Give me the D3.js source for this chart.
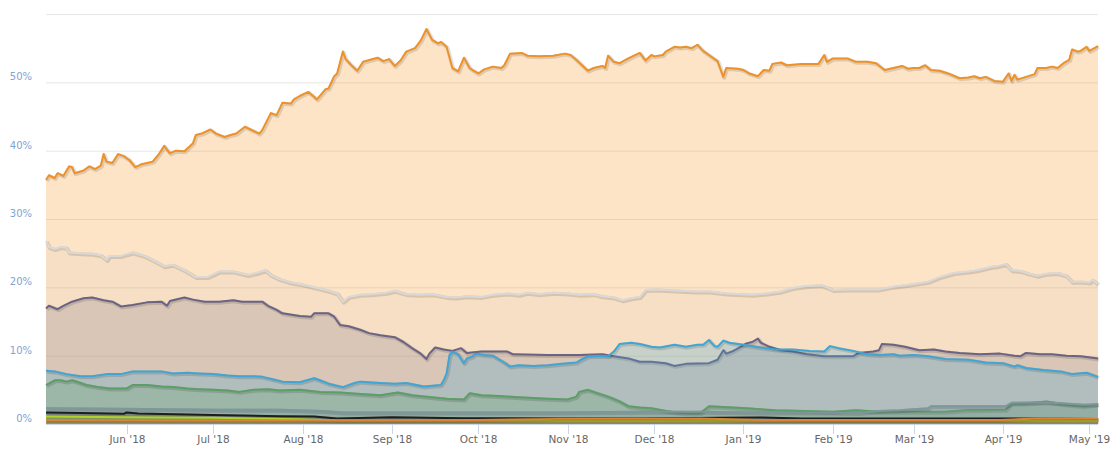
<!DOCTYPE html>
<html><head><meta charset="utf-8">
<script src="https://cdn.jsdelivr.net/npm/d3@7"></script>
<style>body{margin:0;background:#fff}svg{display:block}</style>
</head><body>
<svg id="chart" width="1118" height="459"></svg>
<script>
// ---- data (percent of total market cap) ----
const btc = [["2018-05-04",35.7],["2018-05-05",36.4],["2018-05-07",36.0],["2018-05-08",36.7],["2018-05-10",36.3],["2018-05-12",37.7],["2018-05-13",37.6],["2018-05-14",36.7],["2018-05-17",37.1],["2018-05-19",37.7],["2018-05-21",37.3],["2018-05-23",37.8],["2018-05-24",39.5],["2018-05-25",38.4],["2018-05-27",38.2],["2018-05-29",39.5],["2018-05-31",39.2],["2018-06-02",38.6],["2018-06-04",37.6],["2018-06-06",38.0],["2018-06-08",38.2],["2018-06-10",38.4],["2018-06-12",39.4],["2018-06-14",40.7],["2018-06-16",39.6],["2018-06-18",40.0],["2018-06-21",39.9],["2018-06-24",41.1],["2018-06-25",42.3],["2018-06-27",42.5],["2018-06-30",43.1],["2018-07-02",42.5],["2018-07-05",42.0],["2018-07-07",42.3],["2018-07-09",42.5],["2018-07-12",43.5],["2018-07-14",43.1],["2018-07-17",42.5],["2018-07-18",43.0],["2018-07-21",45.5],["2018-07-23",45.2],["2018-07-25",47.0],["2018-07-28",46.9],["2018-07-29",47.5],["2018-07-31",48.0],["2018-08-03",48.6],["2018-08-05",47.9],["2018-08-06",47.5],["2018-08-09",49.0],["2018-08-10",49.1],["2018-08-12",50.9],["2018-08-13",51.3],["2018-08-15",54.5],["2018-08-16",53.4],["2018-08-18",52.5],["2018-08-20",51.7],["2018-08-22",53.0],["2018-08-27",53.6],["2018-08-29",53.1],["2018-08-31",53.4],["2018-09-02",52.4],["2018-09-04",53.2],["2018-09-06",54.5],["2018-09-09",55.0],["2018-09-11",56.1],["2018-09-13",57.8],["2018-09-15",56.2],["2018-09-17",55.7],["2018-09-18",55.9],["2018-09-20",55.2],["2018-09-22",52.1],["2018-09-24",51.6],["2018-09-26",53.6],["2018-09-28",52.1],["2018-09-29",51.8],["2018-10-01",51.3],["2018-10-03",51.9],["2018-10-06",52.3],["2018-10-09",52.1],["2018-10-10",52.5],["2018-10-12",54.2],["2018-10-16",54.3],["2018-10-18",53.9],["2018-10-22",53.8],["2018-10-27",53.9],["2018-10-31",54.2],["2018-11-02",54.0],["2018-11-04",53.3],["2018-11-08",51.7],["2018-11-10",52.1],["2018-11-13",52.4],["2018-11-14",52.1],["2018-11-15",53.9],["2018-11-17",53.0],["2018-11-19",52.8],["2018-11-22",53.5],["2018-11-24",53.9],["2018-11-26",54.3],["2018-11-28",53.2],["2018-11-30",54.0],["2018-12-01",53.8],["2018-12-04",54.0],["2018-12-05",54.5],["2018-12-08",55.2],["2018-12-10",55.1],["2018-12-12",55.2],["2018-12-14",55.0],["2018-12-16",55.5],["2018-12-18",54.6],["2018-12-20",54.0],["2018-12-23",53.1],["2018-12-25",50.8],["2018-12-26",52.1],["2018-12-30",52.0],["2019-01-01",51.8],["2019-01-03",51.3],["2019-01-06",50.9],["2019-01-08",51.8],["2019-01-10",51.7],["2019-01-11",52.7],["2019-01-14",52.9],["2019-01-16",52.5],["2019-01-21",52.7],["2019-01-27",52.7],["2019-01-29",54.0],["2019-01-30",53.0],["2019-02-01",53.5],["2019-02-06",53.5],["2019-02-09",53.0],["2019-02-13",53.0],["2019-02-16",52.8],["2019-02-19",51.8],["2019-02-22",52.1],["2019-02-25",52.4],["2019-02-27",52.0],["2019-03-01",52.1],["2019-03-03",52.1],["2019-03-05",52.5],["2019-03-07",51.8],["2019-03-10",51.7],["2019-03-13",51.3],["2019-03-17",50.6],["2019-03-20",50.7],["2019-03-22",50.9],["2019-03-24",50.6],["2019-03-26",50.8],["2019-03-29",50.2],["2019-04-01",50.1],["2019-04-03",51.3],["2019-04-04",50.2],["2019-04-05",51.1],["2019-04-06",50.4],["2019-04-09",50.8],["2019-04-12",51.2],["2019-04-13",52.1],["2019-04-16",52.1],["2019-04-18",52.3],["2019-04-20",52.1],["2019-04-22",52.8],["2019-04-24",53.3],["2019-04-25",54.8],["2019-04-27",54.5],["2019-04-28",54.6],["2019-04-30",55.2],["2019-05-01",54.6],["2019-05-04",55.3]];

const others = [["2018-05-04",26.8],["2018-05-05",25.9],["2018-05-07",25.6],["2018-05-09",25.9],["2018-05-11",25.8],["2018-05-12",25.1],["2018-05-16",25.0],["2018-05-20",24.9],["2018-05-23",24.7],["2018-05-25",24.0],["2018-05-26",24.6],["2018-05-30",24.6],["2018-06-03",25.1],["2018-06-07",24.6],["2018-06-10",24.0],["2018-06-14",23.1],["2018-06-17",23.3],["2018-06-21",22.5],["2018-06-25",21.5],["2018-06-29",21.5],["2018-07-03",22.3],["2018-07-08",22.3],["2018-07-13",21.8],["2018-07-16",22.1],["2018-07-19",22.5],["2018-07-21",21.8],["2018-07-24",21.2],["2018-07-28",20.7],["2018-07-31",20.5],["2018-08-05",20.0],["2018-08-10",19.5],["2018-08-13",19.1],["2018-08-15",17.9],["2018-08-17",18.6],["2018-08-21",18.9],["2018-08-25",19.0],["2018-08-30",19.2],["2018-09-02",19.5],["2018-09-06",19.0],["2018-09-11",18.9],["2018-09-15",19.0],["2018-09-20",18.6],["2018-09-23",18.5],["2018-09-27",18.7],["2018-10-02",18.6],["2018-10-06",18.9],["2018-10-11",19.1],["2018-10-15",18.9],["2018-10-18",19.2],["2018-10-22",19.0],["2018-10-27",19.2],["2018-11-01",19.1],["2018-11-05",18.9],["2018-11-10",19.0],["2018-11-13",18.7],["2018-11-17",18.5],["2018-11-20",18.1],["2018-11-23",18.4],["2018-11-26",18.6],["2018-11-28",19.6],["2018-12-02",19.7],["2018-12-05",19.6],["2018-12-10",19.5],["2018-12-15",19.4],["2018-12-20",19.4],["2018-12-26",19.1],["2018-12-31",19.0],["2019-01-04",18.9],["2019-01-09",19.1],["2019-01-14",19.4],["2019-01-18",19.9],["2019-01-23",20.2],["2019-01-28",20.3],["2019-01-30",20.0],["2019-02-01",19.6],["2019-02-06",19.7],["2019-02-10",19.7],["2019-02-17",19.7],["2019-02-22",20.1],["2019-03-01",20.5],["2019-03-06",20.8],["2019-03-10",21.5],["2019-03-15",22.1],["2019-03-20",22.3],["2019-03-23",22.5],["2019-03-28",23.0],["2019-03-30",23.1],["2019-04-02",23.4],["2019-04-04",22.5],["2019-04-07",22.4],["2019-04-10",22.0],["2019-04-13",21.7],["2019-04-16",22.0],["2019-04-20",22.1],["2019-04-23",21.7],["2019-04-25",20.8],["2019-04-29",20.8],["2019-05-01",20.7],["2019-05-02",21.1],["2019-05-04",20.5]];

const eth = [["2018-05-04",16.9],["2018-05-05",17.3],["2018-05-08",16.8],["2018-05-10",17.3],["2018-05-13",17.9],["2018-05-17",18.4],["2018-05-20",18.5],["2018-05-24",18.1],["2018-05-27",17.9],["2018-05-30",17.2],["2018-06-03",17.4],["2018-06-08",17.8],["2018-06-13",17.9],["2018-06-15",17.3],["2018-06-16",18.0],["2018-06-21",18.5],["2018-06-24",18.2],["2018-06-28",17.9],["2018-07-03",17.9],["2018-07-08",18.1],["2018-07-11",17.9],["2018-07-18",17.9],["2018-07-20",17.3],["2018-07-23",16.7],["2018-07-25",16.2],["2018-07-31",15.8],["2018-08-04",15.7],["2018-08-05",16.2],["2018-08-10",16.2],["2018-08-12",15.7],["2018-08-14",14.5],["2018-08-17",14.3],["2018-08-21",13.8],["2018-08-24",13.3],["2018-08-28",13.0],["2018-09-02",12.7],["2018-09-05",12.0],["2018-09-08",11.1],["2018-09-11",10.3],["2018-09-13",9.5],["2018-09-14",10.3],["2018-09-16",11.2],["2018-09-19",10.9],["2018-09-22",10.7],["2018-09-25",11.1],["2018-09-27",10.4],["2018-10-02",10.6],["2018-10-11",10.6],["2018-10-13",10.2],["2018-10-25",10.1],["2018-11-05",10.1],["2018-11-13",10.2],["2018-11-17",9.9],["2018-11-22",9.6],["2018-11-26",9.1],["2018-11-30",9.1],["2018-12-05",8.9],["2018-12-08",8.5],["2018-12-12",8.8],["2018-12-20",8.9],["2018-12-23",9.4],["2018-12-25",10.8],["2018-12-26",10.3],["2018-12-28",10.6],["2018-12-31",11.3],["2019-01-02",11.8],["2019-01-04",12.0],["2019-01-06",12.5],["2019-01-07",11.9],["2019-01-10",11.3],["2019-01-14",10.8],["2019-01-18",10.6],["2019-01-23",10.2],["2019-01-29",9.9],["2019-02-08",9.9],["2019-02-10",10.4],["2019-02-15",10.6],["2019-02-17",10.8],["2019-02-18",11.7],["2019-02-22",11.6],["2019-02-26",11.3],["2019-03-03",10.8],["2019-03-08",10.9],["2019-03-12",10.6],["2019-03-17",10.4],["2019-03-24",10.2],["2019-03-31",10.3],["2019-04-05",10.0],["2019-04-07",9.9],["2019-04-09",10.4],["2019-04-14",10.2],["2019-04-18",10.2],["2019-04-23",10.0],["2019-04-28",9.9],["2019-05-04",9.6]];

const xrp = [["2018-05-04",7.8],["2018-05-07",7.7],["2018-05-11",7.3],["2018-05-16",7.0],["2018-05-20",7.0],["2018-05-25",7.3],["2018-05-30",7.3],["2018-06-03",7.7],["2018-06-08",7.7],["2018-06-13",7.7],["2018-06-17",7.4],["2018-06-22",7.5],["2018-06-26",7.4],["2018-07-01",7.3],["2018-07-06",7.1],["2018-07-10",7.0],["2018-07-15",7.0],["2018-07-18",6.9],["2018-07-22",6.5],["2018-07-25",6.2],["2018-07-31",6.1],["2018-08-05",6.7],["2018-08-07",6.4],["2018-08-10",5.9],["2018-08-15",5.4],["2018-08-19",6.0],["2018-08-21",6.2],["2018-08-28",6.0],["2018-09-02",5.9],["2018-09-06",6.0],["2018-09-12",5.5],["2018-09-18",5.7],["2018-09-19",6.4],["2018-09-20",7.4],["2018-09-21",10.1],["2018-09-22",10.6],["2018-09-24",10.2],["2018-09-26",8.9],["2018-09-27",9.6],["2018-09-29",9.9],["2018-09-30",10.3],["2018-10-03",10.1],["2018-10-06",10.0],["2018-10-10",9.0],["2018-10-12",8.4],["2018-10-15",8.6],["2018-10-20",8.5],["2018-10-25",8.6],["2018-10-30",8.8],["2018-11-04",9.0],["2018-11-06",9.5],["2018-11-08",9.9],["2018-11-12",10.0],["2018-11-15",9.9],["2018-11-17",10.6],["2018-11-19",11.7],["2018-11-23",11.9],["2018-11-26",11.7],["2018-11-30",11.3],["2018-12-03",11.2],["2018-12-08",11.6],["2018-12-12",11.3],["2018-12-16",11.6],["2018-12-18",11.6],["2018-12-20",12.3],["2018-12-22",11.4],["2018-12-23",11.3],["2018-12-25",12.2],["2018-12-27",11.9],["2019-01-01",11.6],["2019-01-07",11.2],["2019-01-12",10.9],["2019-01-18",10.9],["2019-01-24",10.7],["2019-01-29",10.6],["2019-01-31",11.4],["2019-02-03",11.1],["2019-02-08",10.7],["2019-02-13",10.2],["2019-02-17",10.1],["2019-02-22",10.2],["2019-02-24",10.0],["2019-03-01",10.1],["2019-03-06",9.9],["2019-03-12",9.5],["2019-03-20",9.4],["2019-03-26",9.0],["2019-04-01",8.9],["2019-04-05",8.4],["2019-04-06",8.6],["2019-04-09",8.2],["2019-04-15",7.9],["2019-04-21",7.7],["2019-04-25",7.3],["2019-04-30",7.5],["2019-05-04",6.9]];

const bch = [["2018-05-04",5.7],["2018-05-07",6.4],["2018-05-09",6.4],["2018-05-11",6.2],["2018-05-13",6.4],["2018-05-16",6.0],["2018-05-18",5.7],["2018-05-22",5.4],["2018-05-26",5.2],["2018-06-01",5.2],["2018-06-03",5.7],["2018-06-08",5.7],["2018-06-13",5.5],["2018-06-17",5.4],["2018-06-22",5.2],["2018-06-26",5.1],["2018-07-01",5.0],["2018-07-06",4.9],["2018-07-10",4.7],["2018-07-15",5.0],["2018-07-20",5.1],["2018-07-24",4.9],["2018-07-31",5.0],["2018-08-07",4.7],["2018-08-14",4.6],["2018-08-21",4.4],["2018-08-28",4.2],["2018-09-03",4.6],["2018-09-08",4.2],["2018-09-13",4.0],["2018-09-20",3.7],["2018-09-26",3.6],["2018-09-28",4.5],["2018-10-02",4.2],["2018-10-08",4.1],["2018-10-15",3.9],["2018-10-25",3.7],["2018-11-01",3.6],["2018-11-04",4.0],["2018-11-05",4.7],["2018-11-08",5.0],["2018-11-10",4.7],["2018-11-15",4.0],["2018-11-19",3.3],["2018-11-22",2.6],["2018-11-26",2.4],["2018-11-30",2.3],["2018-12-05",1.9],["2018-12-10",1.6],["2018-12-15",1.5],["2018-12-17",1.6],["2018-12-20",2.6],["2018-12-25",2.5],["2019-01-02",2.3],["2019-01-12",2.0],["2019-01-22",1.9],["2019-02-01",1.8],["2019-02-09",2.0],["2019-02-17",1.8],["2019-02-27",1.8],["2019-03-12",1.8],["2019-03-19",2.0],["2019-04-02",2.1],["2019-04-04",3.0],["2019-04-09",3.0],["2019-04-16",3.3],["2019-04-22",2.9],["2019-04-29",2.6],["2019-05-04",2.9]];

const ltc = [["2018-05-04",2.3],["2018-06-07",2.2],["2018-07-01",2.1],["2018-07-24",2.1],["2018-08-08",1.9],["2018-08-15",1.7],["2018-09-04",1.7],["2018-10-02",1.7],["2018-10-29",1.7],["2018-11-26",1.8],["2018-12-17",1.8],["2019-01-07",1.7],["2019-01-31",1.7],["2019-02-10",1.6],["2019-02-17",1.9],["2019-02-24",2.0],["2019-03-06",2.3],["2019-03-07",2.6],["2019-04-02",2.6],["2019-04-04",3.1],["2019-04-16",3.2],["2019-04-29",2.8],["2019-05-04",2.9]];

const eos = [["2018-05-04",1.7],["2018-05-16",1.6],["2018-05-31",1.5],["2018-06-01",1.7],["2018-06-05",1.55],["2018-07-01",1.3],["2018-07-24",1.15],["2018-08-05",1.1],["2018-08-13",0.8],["2018-09-01",1.0],["2018-09-26",0.85],["2018-10-29",0.8],["2018-11-26",0.8],["2018-12-25",0.9],["2019-01-07",0.95],["2019-01-21",0.8],["2019-02-24",0.8],["2019-03-31",0.8],["2019-05-04",0.75]];

const xlm = [["2018-05-04",1.1],["2018-05-31",1.0],["2018-07-01",0.9],["2018-07-31",0.7],["2018-08-14",0.5],["2018-10-01",0.5],["2018-11-26",0.45],["2019-01-21",0.5],["2019-03-31",0.5],["2019-05-04",0.45]];

const xmr = [["2018-05-04",0.6],["2018-07-31",0.5],["2018-10-01",0.6],["2018-10-29",0.75],["2018-12-17",0.8],["2019-01-07",0.6],["2019-03-31",0.6],["2019-04-14",0.8],["2019-05-04",0.75]];

const yTicks = [0, 10, 20, 30, 40, 50, 60];
const yTickLabels = ["0%", "10%", "20%", "30%", "40%", "50%", ""];
const xTicks = ["2018-06-01","2018-07-01","2018-08-01","2018-09-01","2018-10-01","2018-11-01","2018-12-01","2019-01-01","2019-02-01","2019-03-01","2019-04-01","2019-05-01"];
const xTickLabels = ["Jun '18","Jul '18","Aug '18","Sep '18","Oct '18","Nov '18","Dec '18","Jan '19","Feb '19","Mar '19","Apr '19","May '19"];

const seriesList = [
  {data: btc,    line: "#ee9128", fill: "#f7931a", op: 0.25},
  {data: others, line: "#d9d9d9", fill: "#bdbdbd", op: 0.1},
  {data: eth,    line: "#6b6384", fill: "#6b6384", op: 0.2},
  {data: xrp,    line: "#3ea6d6", fill: "#3ea6d6", op: 0.25},
  {data: bch,    line: "#5b9f66", fill: "#5b9f66", op: 0.25},
  {data: ltc,    line: "#7e979d", fill: "#7e979d", op: 0.25},
  {data: eos,    line: "#1e1e1e", fill: "#333333", op: 0.2},
  {data: xlm,    line: "#b2d12b", fill: "#b2d12b", op: 0.35},
  {data: xmr,    line: "#d8843a", fill: "#b5702e", op: 0.35}
];

// ---- drawing ----
const parse = d3.timeParse("%Y-%m-%d");
const svg = d3.select("#chart");
const x = d3.scaleTime().domain([parse("2018-05-04"), parse("2019-05-04")]).range([46, 1098]);
const y = d3.scaleLinear().domain([0, 60]).range([424, 14]);

// gridlines
svg.append("g").selectAll("line").data(yTicks.filter(t => t > 0)).join("line")
  .attr("x1", 46).attr("x2", 1098)
  .attr("y1", d => y(d) + 0.5).attr("y2", d => y(d) + 0.5)
  .attr("stroke", "#e6e6e6").attr("stroke-width", 1);

const area = d3.area().x(d => x(parse(d[0]))).y0(y(0)).y1(d => y(d[1]));
const line = d3.line().x(d => x(parse(d[0]))).y(d => y(d[1]));

seriesList.forEach(s => {
  const g = svg.append("g");
  g.append("path").attr("d", area(s.data)).attr("fill", s.fill).attr("fill-opacity", s.op);
  g.append("path").attr("d", line(s.data)).attr("fill", "none")
    .attr("stroke", "#000").attr("stroke-opacity", 0.12).attr("stroke-width", 4)
    .attr("stroke-linejoin", "round").attr("transform", "translate(1,1)");
  g.append("path").attr("d", line(s.data)).attr("fill", "none")
    .attr("stroke", s.line).attr("stroke-width", 2).attr("stroke-linejoin", "round");
});

// x axis
svg.append("line").attr("x1", 46).attr("x2", 1098).attr("y1", 424.5).attr("y2", 424.5)
  .attr("stroke", "#ccd6eb");
const xg = svg.append("g");
xTicks.forEach((t, i) => {
  const px = Math.round(x(parse(t))) + 0.5;
  xg.append("line").attr("x1", px).attr("x2", px).attr("y1", 424).attr("y2", 434)
    .attr("stroke", "#ccd6eb");
  xg.append("text").attr("x", px).attr("y", 443).attr("text-anchor", "middle")
    .attr("font-family", "DejaVu Sans, sans-serif").attr("font-size", "10.5px")
    .attr("fill", "#666").text(xTickLabels[i]);
});

// y labels
const yg = svg.append("g");
yTicks.forEach((t, i) => {
  if (!yTickLabels[i]) return;
  yg.append("text").attr("x", 32).attr("y", y(t) - 2).attr("text-anchor", "end")
    .attr("font-family", "DejaVu Sans, sans-serif").attr("font-size", "10px")
    .attr("fill", "#7fa3d4").text(yTickLabels[i]);
});
</script>
</body></html>
